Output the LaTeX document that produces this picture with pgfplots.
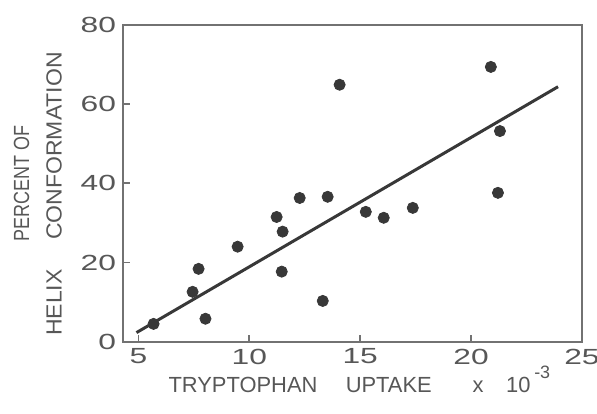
\documentclass[border=0pt]{standalone}
\usepackage{fontspec}
\setmainfont{Liberation Sans}
\newfontfamily\tickfont[FakeStretch=1.45]{Liberation Sans}
\usepackage{pgfplots}
\pgfplotsset{compat=1.18}
\definecolor{inkdot}{HTML}{383838}
\definecolor{inktxt}{HTML}{575757}
\definecolor{inkaxis}{HTML}{727272}

\begin{document}
\begin{tikzpicture}
% page size taken from the reference margins around the plot box
\useasboundingbox (-2.17,-1.27) rectangle (8.365,6.03);
\begin{axis}[
    at={(0,0)}, anchor=south west,
    scale only axis,
    width=8.1cm, height=5.59cm,
    xmin=4.3, xmax=25,
    ymin=0, ymax=80,
    xtick={5,10,15,20,25},
    ytick={0,20,40,60,80},
    tick align=inside,
    xtick pos=bottom, ytick pos=left,
    major tick length=3.5pt,
    axis line style={inkaxis, line width=0.9pt},
    tick style={inkaxis, line width=0.9pt},
    every tick label/.append style={font=\tickfont\fontsize{11}{13}\selectfont, text=inktxt},
    /pgf/number format/assume math mode=true,
    xlabel={TRYPTOPHAN\hspace{0.5cm}UPTAKE\hspace{0.72cm}x\hspace{0.4cm}10\,\raisebox{0.25cm}{\fontsize{9}{9}\selectfont -3}},
    ylabel={\scalebox{0.82}[1]{PERCENT OF}\\\scalebox{1.05}[1]{HELIX\hspace{0.5cm}CONFORMATION}\hspace*{0.38cm}},
    xlabel style={font=\fontsize{11}{13}\selectfont, text=inktxt,
        at={([xshift=0.68cm,yshift=-0.9cm]rel axis cs:0,0)}, anchor=base west},
    ylabel style={font=\fontsize{11}{16.3}\selectfont, text=inktxt, align=center,
        at={([xshift=-0.955cm]rel axis cs:0,0.5)}, anchor=south},
]
% fitted line
\addplot[inkdot, line width=1.5pt] coordinates {(4.91,2.3) (23.92,64.4)};
% measurements
\addplot[only marks, mark=*, mark size=2.8pt, inkdot] coordinates {
  (5.68,4.5) (7.44,12.6) (7.71,18.4) (8.02,5.8) (9.47,24.0)
  (11.23,31.5) (11.50,27.8) (11.46,17.7) (12.27,36.3) (13.53,36.6)
  (14.07,64.9) (15.25,32.8) (16.06,31.3) (17.37,33.8) (13.31,10.3)
  (20.89,69.4) (21.30,53.2) (21.21,37.6)
};
\end{axis}
\end{tikzpicture}
\end{document}
